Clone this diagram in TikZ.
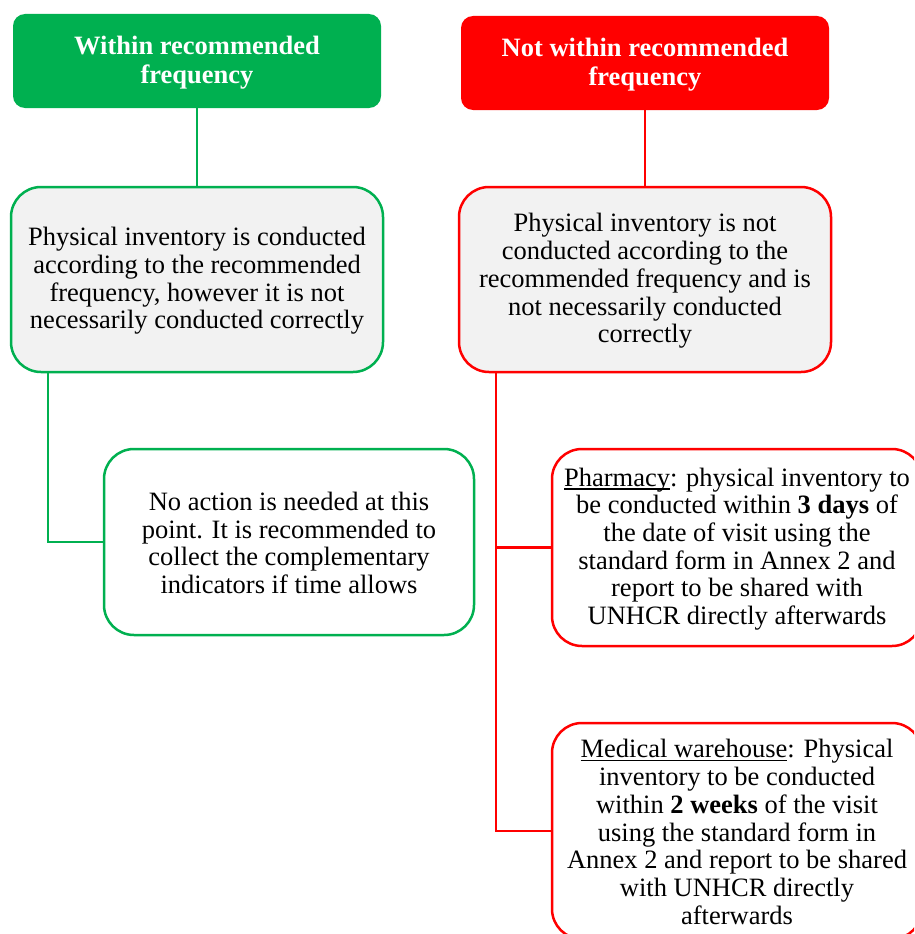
\documentclass[tikz,border=0pt]{standalone}
\usepackage{fontspec}
\setmainfont{Liberation Serif}
\definecolor{okgreen}{HTML}{00B050}
\definecolor{badred}{HTML}{FF0000}
\definecolor{boxgray}{HTML}{F2F2F2}
% underline sitting just below the baseline, independent of descenders
\newcommand\lowrule[1]{\setbox0\hbox{#1}\rlap{\rule[-3.5pt]{\wd0}{1.3pt}}\box0}
\tikzset{
  headbox/.style={rectangle, rounded corners=12pt, text=white, align=center,
    font=\fontsize{26.5}{29}\selectfont\bfseries, minimum width=368pt, minimum height=94pt},
  greenhead/.style={headbox, fill=okgreen},
  redhead/.style={headbox, fill=badred},
  infobox/.style={rectangle, rounded corners=30pt, line width=2.5pt, align=center,
    font=\fontsize{26.5}{27.7}\selectfont},
  greenbox/.style={infobox, draw=okgreen},
  redbox/.style={infobox, draw=badred},
  greenlink/.style={draw=okgreen, line width=2.5pt},
  redlink/.style={draw=badred, line width=2.5pt},
}
\begin{document}
\begin{tikzpicture}[x=1pt,y=-1pt]
\useasboundingbox (0,0) rectangle (914,934);
\clip (0,0) rectangle (914,934);

% headers
\node[greenhead] (h1) at (197,61) {};
\node[text=white, font=\fontsize{26.5}{29}\selectfont\bfseries, align=center] (h1t) at (197,63) {Within recommended\\frequency};
\node[redhead] (h2) at (645,63) {};
\node[text=white, font=\fontsize{26.5}{29}\selectfont\bfseries, align=center] (h2t) at (645,65) {Not within recommended\\frequency};

% first-level boxes
\node[greenbox, fill=boxgray, minimum width=372pt, minimum height=185pt] (g1) at (197,279.5) {};
\node[font=\fontsize{26.5}{27.7}\selectfont, align=center] (g1t) at (197,281)
  {Physical inventory is conducted\\according to the recommended\\frequency, however it is not\\necessarily conducted correctly};
\node[redbox, fill=boxgray, minimum width=372pt, minimum height=185pt] (r1) at (645,279.5) {};
\node[font=\fontsize{26.5}{27.7}\selectfont, align=center] (r1t) at (645,281)
  {Physical inventory is not\\conducted according to the\\recommended frequency and is\\not necessarily conducted\\correctly};

% second-level boxes
\node[greenbox, fill=white, minimum width=370pt, minimum height=186pt] (g2) at (289,542) {};
\node[font=\fontsize{26.5}{27.7}\selectfont, align=center] (g2t) at (289,543)
  {No action is needed at this\\point. It is recommended to\\collect the complementary\\indicators if time allows};
\node[redbox, fill=white, minimum width=370pt, minimum height=197pt] (r2) at (737,547.5) {};
\node[font=\fontsize{26.5}{27.7}\selectfont, align=center] (r2t) at (737,549)
  {\lowrule{Pharmacy}: physical inventory to\\be conducted within \textbf{3 days} of\\the date of visit using the\\standard form in Annex 2 and\\report to be shared with\\UNHCR directly afterwards};
\node[redbox, fill=white, minimum width=370pt, minimum height=216pt] (r3) at (737,831) {};
\node[font=\fontsize{26.5}{27.7}\selectfont, align=center] (r3t) at (737,832)
  {\lowrule{Medical warehouse}: Physical\\inventory to be conducted\\within \textbf{2 weeks} of the visit\\using the standard form in\\Annex 2 and report to be shared\\with UNHCR directly\\afterwards};

% connectors
\draw[greenlink] (h1.south) -- (g1.north);
\draw[redlink] (h2.south) -- (r1.north);
\draw[greenlink] (g1.south west) ++(38,0) |- (g2.west);
\draw[redlink] (r1.south west) ++(38,0) coordinate (rtrunk) |- (r3.west);
\draw[redlink] (rtrunk |- r2.west) -- (r2.west);
\end{tikzpicture}
\end{document}
